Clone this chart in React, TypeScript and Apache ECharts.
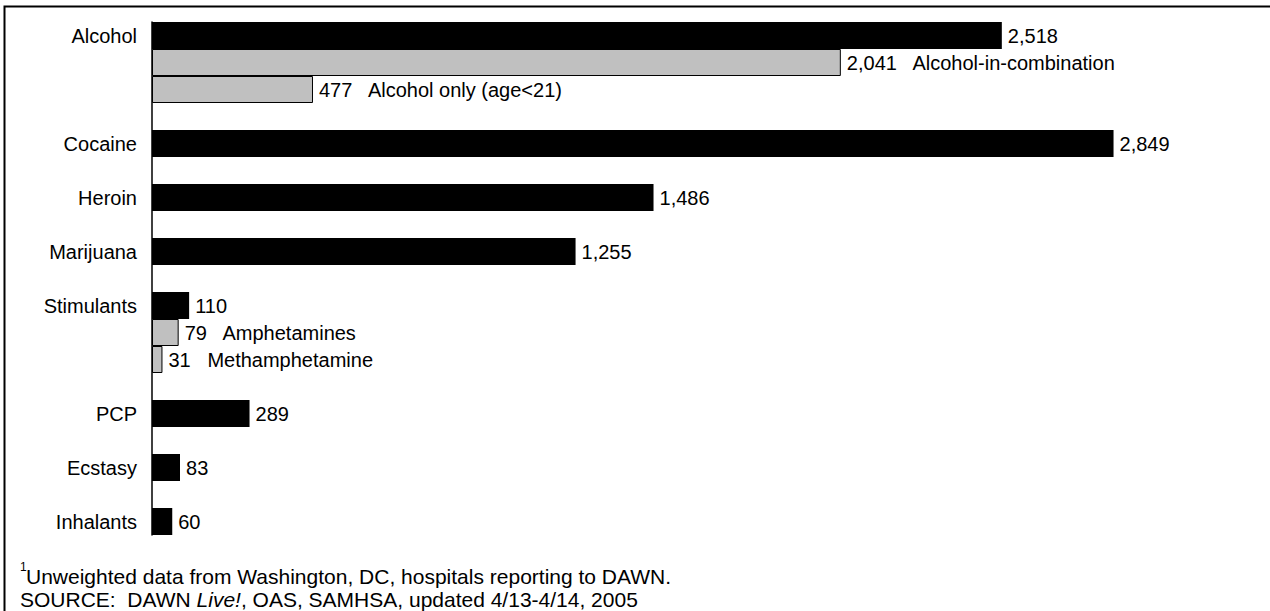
import React, { useEffect, useRef } from "react";
import * as echarts from "echarts";

const mainNames = ["Alcohol", "Cocaine", "Heroin", "Marijuana", "Stimulants", "PCP", "Ecstasy", "Inhalants"];
const mainValues = [2518, 2849, 1486, 1255, 110, 289, 83, 60];
const subNames = ["Alcohol-in-combination", "Alcohol only (age<21)", "Amphetamines", "Methamphetamine"];
const subValues = [2041, 477, 79, 31];
const subParents = ["Alcohol", "Alcohol", "Stimulants", "Stimulants"];
const footnoteMark = "1";
const footnoteLine1 = "Unweighted data from Washington, DC, hospitals reporting to DAWN.";
const sourcePrefix = "SOURCE:  DAWN ";
const sourceItalic = "Live!";
const sourceSuffix = ", OAS, SAMHSA, updated 4/13-4/14, 2005";

type Slot = { label: string; main?: number; sub?: number; subName?: string };

const slots: Slot[] = [];
mainNames.forEach((n, i) => {
  if (i > 0) slots.push({ label: "" });
  slots.push({ label: n, main: mainValues[i] });
  subNames.forEach((s, j) => {
    if (subParents[j] === n) slots.push({ label: "", sub: subValues[j], subName: s });
  });
});

const FONT = "Arial, 'Liberation Sans', sans-serif";
const fmt = (v: number) => Number(v).toLocaleString("en-US");

export default function App() {
  const ref = useRef<HTMLDivElement>(null);
  useEffect(() => {
    if (!ref.current) return;
    const chart = echarts.init(ref.current, undefined, { renderer: "svg" });
    chart.setOption({
      animation: false,
      backgroundColor: "#fff",
      grid: { left: 152, top: 22, width: 1012.5, height: 513, containLabel: false },
      xAxis: { type: "value", min: 0, max: 3000, show: false },
      yAxis: {
        type: "category",
        inverse: true,
        data: slots.map((_, i) => String(i)),
        axisLine: { show: true, lineStyle: { color: "#000", width: 1.5 } },
        axisTick: { show: false },
        splitLine: { show: false },
        axisLabel: {
          margin: 15,
          fontSize: 20,
          fontFamily: FONT,
          color: "#000",
          interval: 0,
          formatter: (_v: string, idx: number) => slots[idx].label,
        },
      },
      series: [
        {
          type: "bar",
          data: slots.map((s) => (s.main !== undefined ? s.main : "-")),
          barGap: "-100%",
          barCategoryGap: "0%",
          itemStyle: { color: "#000", borderColor: "#000", borderWidth: 0 },
          label: {
            show: true,
            position: "right",
            distance: 6,
            fontSize: 20,
            fontFamily: FONT,
            color: "#000",
            formatter: (p: any) => fmt(p.value),
          },
        },
        {
          type: "bar",
          data: slots.map((s) => (s.sub !== undefined ? s.sub : "-")),
          barGap: "-100%",
          barCategoryGap: "0%",
          itemStyle: { color: "#c0c0c0", borderColor: "#000", borderWidth: 1 },
          label: {
            show: true,
            position: "right",
            distance: 6,
            fontSize: 20,
            fontFamily: FONT,
            color: "#000",
            formatter: (p: any) => `${fmt(p.value)}   ${slots[p.dataIndex].subName}`,
          },
        },
      ],
      graphic: [
        {
          type: "rect",
          shape: { x: 4.5, y: 6.5, width: 2000, height: 2000 },
          style: { fill: "none", stroke: "#000", lineWidth: 2 },
          silent: true,
        },
        {
          type: "text",
          x: 20,
          y: 567,
          style: {
            text: footnoteMark,
            fontSize: 12,
            fontFamily: FONT,
            fill: "#000",
            verticalAlign: "middle",
          },
        },
        {
          type: "text",
          x: 26,
          y: 576,
          style: {
            text: footnoteLine1,
            fontSize: 21,
            fontFamily: FONT,
            fill: "#000",
            verticalAlign: "middle",
          },
        },
        {
          type: "text",
          x: 20,
          y: 599,
          style: {
            text: `{n|${sourcePrefix}}{i|${sourceItalic}}{n|${sourceSuffix}}`,
            fontSize: 21,
            fontFamily: FONT,
            fill: "#000",
            verticalAlign: "middle",
            rich: {
              n: { fontSize: 21, fontFamily: FONT, fill: "#000" },
              i: { fontSize: 21, fontFamily: FONT, fontStyle: "italic", fill: "#000" },
            },
          },
        },
      ],
    });
    return () => chart.dispose();
  }, []);
  return (
    <div
      ref={ref}
      style={{ position: "fixed", left: 0, top: 0, width: 1270, height: 611, background: "#fff" }}
    />
  );
}
